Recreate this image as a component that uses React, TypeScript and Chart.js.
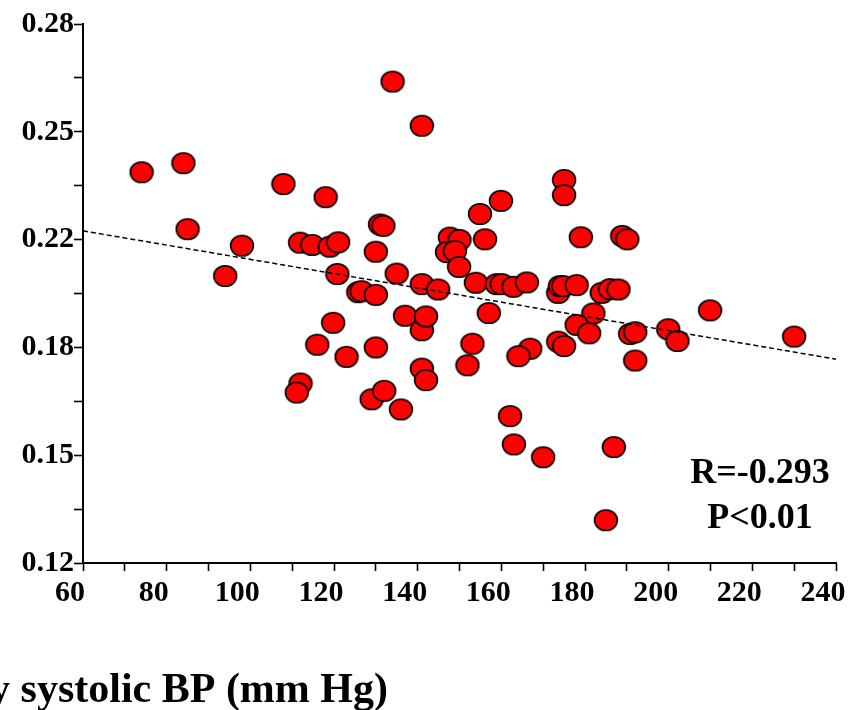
import React, { useEffect, useRef } from "react";
import { Chart, registerables } from "chart.js";

Chart.register(...registerables);

// Systolic BP (mm Hg)
const bpValues = [
  74.0, 84.0, 85.0, 94.0, 98.0, 107.9, 118.0, 111.9, 114.8, 119.0,
  121.0, 120.8, 119.8, 116.0, 123.0, 112.0, 111.1, 125.8, 126.6, 130.0,
  130.0, 131.0, 131.8, 130.0, 129.0, 132.0, 134.0, 136.0, 135.0, 137.0,
  141.0, 141.0, 141.0, 142.0, 141.0, 142.0, 144.9, 147.7, 150.0, 147.0,
  148.9, 149.9, 156.1, 154.9, 159.9, 153.9, 158.9, 160.1, 162.9, 166.1,
  157.0, 153.1, 151.9, 166.9, 164.1, 162.1, 163.0, 170.0, 175.0, 175.0,
  179.0, 188.9, 190.1, 173.6, 174.0, 174.8, 178.0, 184.0, 186.0, 188.0,
  182.0, 178.0, 181.0, 173.6, 175.0, 190.8, 192.0, 199.9, 202.1, 192.0,
  209.9, 230.0, 186.9, 185.0,
];

// Measured ratio
const ratioValues = [
  0.2360, 0.2387, 0.2191, 0.2052, 0.2142, 0.2325, 0.2286, 0.2151, 0.2144, 0.2139,
  0.2152, 0.2058, 0.1913, 0.1848, 0.1812, 0.1733, 0.1706, 0.2004, 0.2007, 0.1996,
  0.1840, 0.2205, 0.2201, 0.2124, 0.1686, 0.1711, 0.2629, 0.1656, 0.2059, 0.1934,
  0.2498, 0.2028, 0.1891, 0.1932, 0.1777, 0.1743, 0.2012, 0.2166, 0.2159, 0.2123,
  0.2126, 0.2079, 0.2161, 0.2236, 0.2275, 0.2032, 0.2028, 0.2028, 0.2020, 0.2033,
  0.1942, 0.1851, 0.1787, 0.1836, 0.1814, 0.1636, 0.1552, 0.1514, 0.2337, 0.2292,
  0.2167, 0.2171, 0.2161, 0.2002, 0.2022, 0.2022, 0.2025, 0.2002, 0.2013, 0.2012,
  0.1941, 0.1907, 0.1882, 0.1857, 0.1844, 0.1880, 0.1885, 0.1894, 0.1859, 0.1801,
  0.1950, 0.1872, 0.1544, 0.1327,
];

// Regression line end points
const fitX = [60, 240];
const fitY = [0.2186, 0.1805];

const xTicks = [60, 70, 80, 90, 100, 110, 120, 130, 140, 150, 160, 170, 180, 190, 200, 210, 220, 230, 240];
const xTickLabels = ["60", "", "80", "", "100", "", "120", "", "140", "", "160", "", "180", "", "200", "", "220", "", "240"];
const yTicks = [0.12, 0.136, 0.152, 0.168, 0.184, 0.2, 0.216, 0.232, 0.248, 0.264, 0.28];
const yTickLabels = ["0.12", "", "0.15", "", "0.18", "", "0.22", "", "0.25", "", "0.28"];

const statLines = ["R=-0.293", "P<0.01"];
const xAxisTitle = "y systolic BP (mm Hg)";

const FONT = "'Liberation Serif', 'Times New Roman', serif";

function makeEllipse(): HTMLCanvasElement {
  const c = document.createElement("canvas");
  c.width = 26;
  c.height = 24;
  const ctx = c.getContext("2d")!;
  ctx.beginPath();
  ctx.ellipse(13, 12, 11.4, 10.3, 0, 0, Math.PI * 2);
  ctx.fillStyle = "#ff0000";
  ctx.fill();
  ctx.lineWidth = 1.6;
  ctx.strokeStyle = "#000000";
  ctx.stroke();
  return c;
}

export default function App() {
  const ref = useRef<HTMLCanvasElement | null>(null);

  useEffect(() => {
    document.body.style.margin = "0";
    const canvas = ref.current!;
    const ellipse = makeEllipse();

    const textPlugin = {
      id: "texts",
      afterDraw(chart: any) {
        const ctx = chart.ctx;
        ctx.save();
        ctx.fillStyle = "#000";
        ctx.font = `bold 36px ${FONT}`;
        ctx.textAlign = "center";
        ctx.textBaseline = "alphabetic";
        ctx.fillText(statLines[0], 760, 483);
        ctx.fillText(statLines[1], 760, 528);
        ctx.font = `bold 42px ${FONT}`;
        ctx.textAlign = "right";
        ctx.fillText(xAxisTitle, 388, 702);
        ctx.restore();
      },
    };

    const chart = new Chart(canvas, {
      type: "scatter",
      data: {
        datasets: [
          {
            type: "line",
            data: fitX.map((x, i) => ({ x, y: fitY[i] })),
            borderColor: "#000",
            borderWidth: 1.5,
            borderDash: [5, 3],
            pointRadius: 0,
            fill: false,
            order: 1,
          } as any,
          {
            data: bpValues.map((x, i) => ({ x, y: ratioValues[i] })),
            pointStyle: ellipse as any,
            pointRadius: 11,
            order: 2,
          },
        ],
      },
      plugins: [textPlugin],
      options: {
        animation: false,
        responsive: false,
        layout: { padding: { left: 0, top: 24, right: 16, bottom: 87 } },
        plugins: { legend: { display: false }, tooltip: { enabled: false } },
        scales: {
          x: {
            type: "linear",
            min: 60,
            max: 240,
            afterBuildTicks: (s: any) => {
              s.ticks = xTicks.map((v) => ({ value: v }));
            },
            afterFit: (s: any) => {
              s.height = 60;
              s.paddingLeft = 0;
              s.paddingRight = 0;
            },
            ticks: {
              callback: (_v: any, i: number) => xTickLabels[i],
              font: { family: FONT, size: 30, weight: "bold" },
              color: "#000",
              padding: 4,
              labelOffset: -13,
              maxRotation: 0,
              autoSkip: false,
            },
            grid: {
              drawOnChartArea: false,
              drawTicks: true,
              tickLength: 8,
              tickWidth: 1.6,
              tickColor: "#000",
            },
            border: { display: true, color: "#000", width: 2 },
          },
          y: {
            type: "linear",
            min: 0.12,
            max: 0.28,
            afterBuildTicks: (s: any) => {
              s.ticks = yTicks.map((v) => ({ value: v }));
            },
            afterFit: (s: any) => {
              s.width = 83;
              s.paddingTop = 0;
              s.paddingBottom = 0;
            },
            ticks: {
              callback: (_v: any, i: number) => yTickLabels[i],
              font: { family: FONT, size: 30, weight: "bold" },
              color: "#000",
              padding: 0,
              autoSkip: false,
            },
            grid: {
              drawOnChartArea: false,
              drawTicks: true,
              tickLength: 9,
              tickWidth: 1.6,
              tickColor: "#000",
            },
            border: { display: true, color: "#000", width: 2 },
          },
        },
      },
    });

    return () => chart.destroy();
  }, []);

  return <canvas ref={ref} width={852} height={710} style={{ display: "block" }} />;
}
